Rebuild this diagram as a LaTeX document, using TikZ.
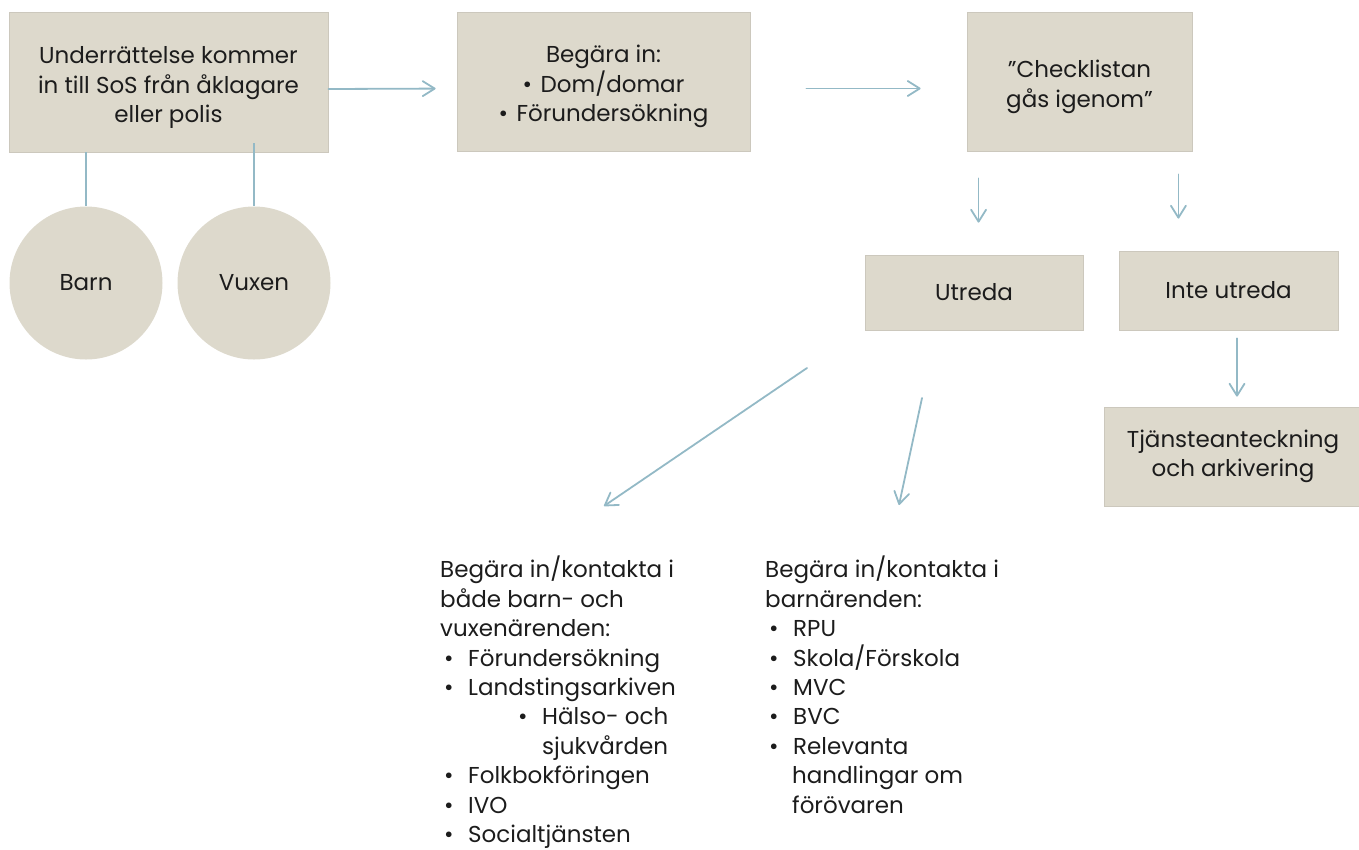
\documentclass[tikz,border=0pt]{standalone}
\usepackage{fontspec}
\setmainfont{Poppins}
\usetikzlibrary{calc,arrows.meta}
\definecolor{boxfill}{RGB}{221,217,204}
\definecolor{boxedge}{RGB}{204,200,189}
\definecolor{flow}{RGB}{147,185,198}
\definecolor{ink}{RGB}{28,28,28}
\newcommand{\txt}{\fontsize{23}{29.4}\selectfont}
\newcommand{\bul}{\hspace*{4pt}\makebox[24pt][l]{•}}
\newcommand{\boxbul}{\makebox[18pt][l]{•}}
\newcommand{\droptext}{\rule{0pt}{28pt}}
\tikzset{
  jbox/.style={fill=boxfill,draw=boxedge,line width=0.8pt,inner sep=0pt,align=center,font=\txt,text=ink},
  jcirc/.style={circle,fill=boxfill,minimum size=153pt,inner sep=0pt,font=\txt,text=ink},
  jarrow/.style={flow,line width=1.8pt,line cap=round,-{Straight Barb[length=12pt,width=15pt,round]}},
  jline/.style={flow,line width=1.8pt},
  jlist/.style={align=left,inner sep=0pt,font=\txt,text=ink,anchor=north west},
}

\begin{document}
\begin{tikzpicture}[x=1pt,y=-1pt]
  \useasboundingbox (0,0) rectangle (1359,849);
  % ---- top row ----
  \node[jbox,minimum width=319pt,minimum height=140pt] (meddel) at (168.5,82)
     {\droptext Underrättelse kommer\\in till SoS från åklagare\\eller polis};
  \node[jbox,minimum width=293pt,minimum height=139pt] (begar) at (603.5,81.5)
     {\droptext Begära in:\\\boxbul Dom/domar\\\boxbul Förundersökning};
  \node[jbox,minimum width=225pt,minimum height=139pt] (check) at (1079.5,81.5)
     {\droptext ”Checklistan\\gås igenom”};
  % ---- barn / vuxen ----
  \node[jcirc] (barn) at (86,283) {Barn};
  \node[jcirc] (vuxen) at (254,283) {Vuxen};
  \draw[jline] (meddel.south -| barn) -- (barn.north);
  \draw[jline,shorten <=-9pt] (meddel.south -| vuxen) -- (vuxen.north);
  % ---- decision ----
  \node[jbox,minimum width=218pt,minimum height=75pt] (utreda) at (974,292.5) {Utreda};
  \node[jbox,minimum width=219pt,minimum height=79pt] (inte) at (1228.5,290.5) {Inte utreda};
  \node[jbox,minimum width=258pt,minimum height=99pt] (tjanst) at (1233,456.5)
     {Tjänsteanteckning\\och arkivering};
  % ---- lists ----
  \node[jlist] (both) at (440,556)
     {Begära in/kontakta i\\både barn- och\\vuxenärenden:\\
      \bul Förundersökning\\\bul Landstingsarkiven\\
      \hspace*{78pt}\makebox[24pt][l]{•}Hälso- och\\\hspace*{102pt}sjukvården\\
      \bul Folkbokföringen\\\bul IVO\\\bul Socialtjänsten};
  \node[jlist] (barnonly) at (765,556)
     {Begära in/kontakta i\\barnärenden:\\\bul RPU\\\bul Skola/Förskola\\
      \bul MVC\\\bul BVC\\\bul Relevanta\\\hspace*{27pt}handlingar om\\
      \hspace*{27pt}förövaren};
  % ---- arrows ----
  \draw[jarrow,shorten >=21pt] ([yshift=-7pt]meddel.east) -- ([yshift=-7pt]begar.west);
  \draw[jarrow,shorten <=56pt,shorten >=46pt] ([yshift=-7pt]begar.east) -- ([yshift=-7pt]check.west);
  \coordinate (c1) at ($(check.south west)!.053!(check.south east)$);
  \coordinate (c2) at ($(check.south west)!.938!(check.south east)$);
  \coordinate (c3) at ([xshift=8.5pt]inte.south);
  \draw[jarrow,shorten <=27pt,shorten >=32pt] (c1) -- (c1 |- utreda.north);
  \draw[jarrow,shorten <=23pt,shorten >=32pt] (c2) -- (c2 |- inte.north);
  \draw[jarrow,shorten <=8pt,shorten >=10pt] (c3) -- (c3 |- tjanst.north);
  \coordinate (d1) at (807,368);
  \coordinate (d1e) at (604,506);
  \coordinate (d2) at (922,398);
  \coordinate (d2e) at (899,505);
  \draw[jarrow] (d1) -- (d1e);
  \draw[jarrow] (d2) -- (d2e);
\end{tikzpicture}
\end{document}
